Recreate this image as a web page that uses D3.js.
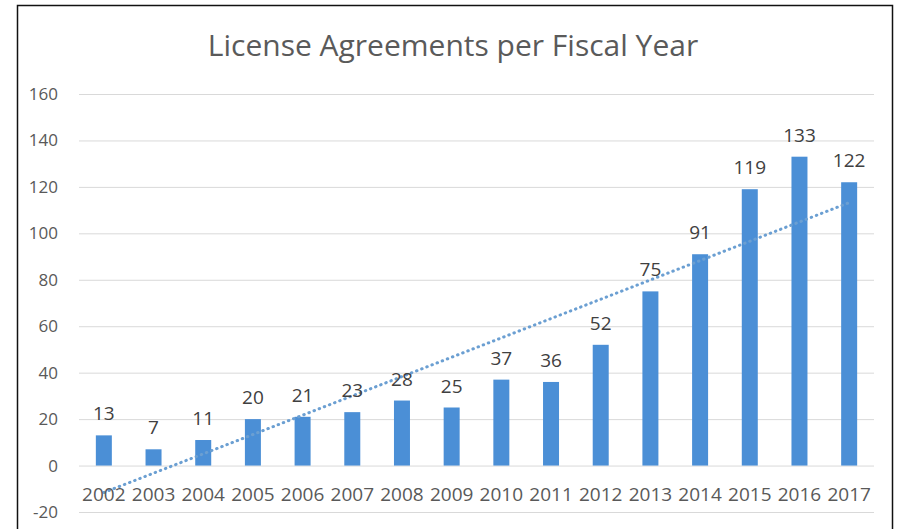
<!DOCTYPE html>
<html>
<head>
<meta charset="utf-8">
<script src="https://cdn.jsdelivr.net/npm/d3@7"></script>
<style>
    body { margin: 0; background: #fff; }
    svg text { font-family: "Open Sans", sans-serif; }
</style>
</head>
<body>
<div id="chart"></div>
<script>
// DATA
var years = ['2002', '2003', '2004', '2005', '2006', '2007', '2008', '2009',
    '2010', '2011', '2012', '2013', '2014', '2015', '2016', '2017'];
var agreements = [13, 7, 11, 20, 21, 23, 28, 25, 37, 36, 52, 75, 91, 119, 133, 122];
var yTicks = [-20, 0, 20, 40, 60, 80, 100, 120, 140, 160];
var chartTitle = 'License Agreements per Fiscal Year';

// HELPERS
function getTrend(values) {
    // least squares fit over the category index (like the excel linear trendline)
    var n = values.length;
    var sumX = 0, sumY = 0, sumXY = 0, sumX2 = 0;
    values.forEach((v, i) => {
        sumX += i;
        sumY += v;
        sumXY += i * v;
        sumX2 += i * i;
    });
    var m = (sumXY - sumX * sumY / n) / (sumX2 - sumX * sumX / n);
    var b = (sumY - m * sumX) / n;
    return { m: m, b: b };
}

function drawChart() {
    var width = 899,
        height = 529;

    var svg = d3.select('#chart')
        .append('svg')
        .attr('width', width)
        .attr('height', height);

    // outer frame
    svg.append('rect')
        .attr('x', 17.5)
        .attr('y', 5.5)
        .attr('width', 875)
        .attr('height', 540)
        .attr('fill', '#fff')
        .attr('stroke', '#111')
        .attr('stroke-width', 1.5);

    var xScale = d3.scaleBand()
        .domain(years)
        .range([79, 874])
        .paddingInner(0.678)
        .paddingOuter(0.339);

    var yScale = d3.scaleLinear()
        .domain([-20, 160])
        .range([512, 94]);

    // title
    svg.append('text')
        .attr('x', 453)
        .attr('y', 56)
        .attr('text-anchor', 'middle')
        .style('font-size', '30px')
        .style('fill', '#5a5a5a')
        .text(chartTitle);

    // gridlines + y labels
    var yAxis = svg.append('g')
        .attr('id', 'yAxis')
        .attr('transform', 'translate(79, 0)')
        .call(d3.axisLeft(yScale)
            .tickValues(yTicks)
            .tickSize(-795)
            .tickPadding(21)
            .tickFormat(d => String(d)));

    yAxis.select('.domain').remove();
    yAxis.selectAll('.tick line')
        .attr('stroke', '#d9d9d9')
        .attr('stroke-width', 1);
    yAxis.selectAll('.tick text')
        .style('font-size', '17px')
        .style('fill', '#595959');

    // bars
    svg.append('g')
        .selectAll('rect')
        .data(agreements)
        .enter()
        .append('rect')
        .attr('x', (d, i) => xScale(years[i]))
        .attr('y', d => yScale(d))
        .attr('width', xScale.bandwidth())
        .attr('height', d => yScale(0) - yScale(d))
        .attr('fill', '#4b8fd6');

    // trendline (dotted)
    var c = getTrend(agreements);
    var first = 0,
        last = years.length - 1;
    var half = xScale.bandwidth() / 2;
    svg.append('line')
        .attr('id', 'bestfit')
        .attr('x1', xScale(years[first]) + half)
        .attr('y1', yScale(c.m * first + c.b))
        .attr('x2', xScale(years[last]) + half)
        .attr('y2', yScale(c.m * last + c.b))
        .attr('stroke', '#6b9fd2')
        .attr('stroke-width', 3)
        .attr('stroke-linecap', 'round')
        .attr('stroke-dasharray', '0.5 5');

    // value labels
    svg.append('g')
        .selectAll('text')
        .data(agreements)
        .enter()
        .append('text')
        .attr('x', (d, i) => xScale(years[i]) + half)
        .attr('y', d => yScale(d) - 15)
        .attr('text-anchor', 'middle')
        .style('font-size', '19px')
        .style('fill', '#404040')
        .text(d => d);

    // category labels
    var xAxis = svg.append('g')
        .attr('id', 'xAxis')
        .attr('transform', 'translate(0, ' + yScale(0) + ')')
        .call(d3.axisBottom(xScale).tickSize(0).tickPadding(0));

    xAxis.select('.domain').remove();
    xAxis.selectAll('.tick text')
        .attr('dy', null)
        .attr('y', 35)
        .style('font-size', '19px')
        .style('fill', '#595959');
}

drawChart();
</script>
</body>
</html>
